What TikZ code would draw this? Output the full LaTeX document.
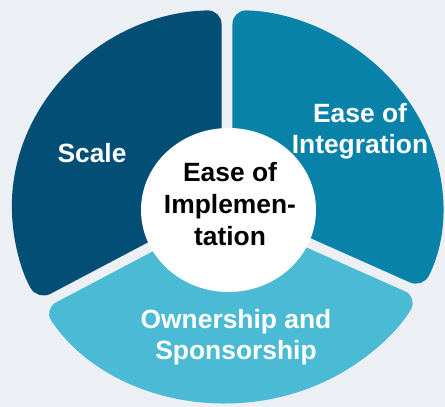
\documentclass[tikz,border=0pt]{standalone}
\usepackage{fontspec}
\setmainfont{Liberation Sans}
\usetikzlibrary{shapes.geometric}
\definecolor{fundo}{HTML}{ECEFF4}
\definecolor{azulEscuro}{HTML}{034E75}
\definecolor{azulMedio}{HTML}{0882A8}
\definecolor{azulClaro}{HTML}{4BBAD5}
\tikzset{
  setor/.style={rounded corners=7pt},
  rotulo/.style={text=white, font=\bfseries\fontsize{13.2}{15.5}\selectfont, align=center},
  miolo/.style={ellipse, fill=white, inner sep=0pt, minimum width=87.5pt, minimum height=82pt}
}
\begin{document}
\begin{tikzpicture}[x=0.5pt, y=0.5pt]
  \useasboundingbox (0,0) rectangle (445,407);
  \fill[fundo] (0,0) rectangle (445,407); % Fundo
  \begin{scope}[shift={(227,200.5)}, xscale=1.095]
    \fill[azulEscuro, setor] (150:5.8) -- (91.46:196.5) arc (91.46:208.54:196.5) -- cycle; % Scale
    \fill[azulMedio, setor] (32:5.9) -- (-24.54:196.5) arc (-24.54:88.54:196.5) -- cycle; % Integration
    \fill[azulClaro, setor] (272:5.7) -- (211.46:196.5) arc (211.46:332.54:196.5) -- cycle; % Ownership
  \end{scope}
  \node[miolo] (centro) at (228.5,197) {}; % Circulo branco
  \node[font=\bfseries\fontsize{13.2}{15.8}\selectfont, align=center] (implementacao) at (230,203) {Ease of\\Implemen-\\tation};
  \node[rotulo] (escala) at (92,254) {Scale};
  \node[rotulo] (integracao) at (360,276) {Ease of\\Integration};
  \node[rotulo] (propriedade) at (236,70) {Ownership and\\Sponsorship};
\end{tikzpicture}
\end{document}
